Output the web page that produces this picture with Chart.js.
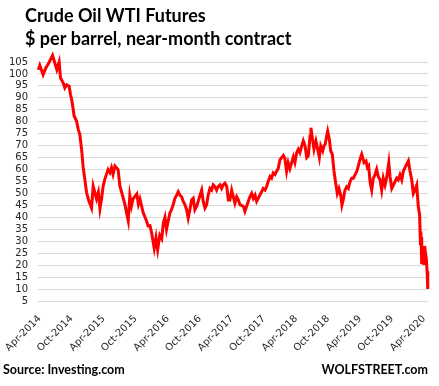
<!DOCTYPE html>
<html>
<head>
<meta charset="utf-8">
<title>Crude Oil WTI Futures</title>
<script src="https://cdn.jsdelivr.net/npm/chart.js@4.4.1/dist/chart.umd.min.js"></script>
<style>
  html, body { margin: 0; padding: 0; background: #fff; }
  canvas { display: block; }
</style>
</head>
<body>
<canvas id="oilChart" width="439" height="386"></canvas>
<script>
// near-month WTI close
const dates = [
  '2014-03-24', '2014-04-02', '2014-04-21', '2014-05-06', '2014-05-23', '2014-06-14', '2014-06-27', '2014-07-08',
  '2014-07-21', '2014-07-29', '2014-08-14', '2014-08-23', '2014-09-03', '2014-09-17', '2014-09-25', '2014-10-01',
  '2014-10-10', '2014-10-15', '2014-10-29', '2014-11-08', '2014-11-17', '2014-11-27', '2014-12-06', '2014-12-15',
  '2014-12-25', '2015-01-04', '2015-01-23', '2015-02-02', '2015-02-21', '2015-03-01', '2015-03-10', '2015-03-19',
  '2015-03-28', '2015-04-07', '2015-04-26', '2015-05-06', '2015-05-15', '2015-05-24', '2015-06-04', '2015-06-22',
  '2015-07-02', '2015-07-12', '2015-07-30', '2015-08-19', '2015-08-28', '2015-09-07', '2015-09-16', '2015-10-07',
  '2015-10-16', '2015-10-25', '2015-11-13', '2015-12-01', '2015-12-10', '2015-12-21', '2015-12-30', '2016-01-15',
  '2016-01-25', '2016-02-04', '2016-02-16', '2016-02-27', '2016-03-06', '2016-03-15', '2016-03-24', '2016-04-03',
  '2016-04-13', '2016-04-22', '2016-05-02', '2016-05-11', '2016-05-21', '2016-05-30', '2016-06-09', '2016-06-19',
  '2016-06-28', '2016-07-07', '2016-07-17', '2016-07-26', '2016-08-05', '2016-08-15', '2016-08-24', '2016-09-03',
  '2016-09-13', '2016-09-22', '2016-10-02', '2016-10-11', '2016-10-20', '2016-10-30', '2016-11-09', '2016-11-18',
  '2016-11-28', '2016-12-07', '2016-12-16', '2016-12-26', '2017-01-05', '2017-01-14', '2017-01-24', '2017-02-03',
  '2017-02-12', '2017-02-22', '2017-03-02', '2017-03-11', '2017-03-20', '2017-03-30', '2017-04-09', '2017-04-18',
  '2017-04-28', '2017-05-07', '2017-05-16', '2017-06-05', '2017-06-14', '2017-06-24', '2017-07-03', '2017-07-12',
  '2017-07-22', '2017-08-01', '2017-08-11', '2017-08-20', '2017-08-29', '2017-09-08', '2017-09-18', '2017-09-27',
  '2017-10-07', '2017-10-16', '2017-10-25', '2017-11-05', '2017-11-14', '2017-11-23', '2017-12-03', '2017-12-12',
  '2017-12-21', '2018-01-01', '2018-01-20', '2018-01-29', '2018-02-08', '2018-02-17', '2018-02-27', '2018-03-07',
  '2018-03-16', '2018-03-25', '2018-04-05', '2018-04-14', '2018-04-23', '2018-05-03', '2018-05-12', '2018-05-22',
  '2018-06-01', '2018-06-10', '2018-06-20', '2018-06-25', '2018-07-05', '2018-07-12', '2018-07-23', '2018-07-31',
  '2018-08-12', '2018-08-20', '2018-09-01', '2018-09-08', '2018-09-15', '2018-09-23', '2018-09-29', '2018-10-08',
  '2018-10-16', '2018-10-25', '2018-11-04', '2018-11-14', '2018-11-23', '2018-12-02', '2018-12-12', '2018-12-19',
  '2018-12-26', '2019-01-06', '2019-01-16', '2019-01-25', '2019-02-04', '2019-02-14', '2019-02-23', '2019-03-02',
  '2019-03-12', '2019-03-21', '2019-03-31', '2019-04-10', '2019-04-16', '2019-04-23', '2019-05-04', '2019-05-12',
  '2019-05-19', '2019-05-27', '2019-06-06', '2019-06-15', '2019-06-25', '2019-07-04', '2019-07-13', '2019-07-23',
  '2019-08-02', '2019-08-11', '2019-08-21', '2019-08-30', '2019-09-12', '2019-09-19', '2019-09-29', '2019-10-08',
  '2019-10-17', '2019-10-27', '2019-11-05', '2019-11-15', '2019-11-25', '2019-12-04', '2019-12-13', '2019-12-23',
  '2020-01-02', '2020-01-11', '2020-01-21', '2020-01-30', '2020-02-09', '2020-02-19', '2020-02-28', '2020-03-05',
  '2020-03-09', '2020-03-13', '2020-03-16', '2020-03-18', '2020-03-20', '2020-03-24', '2020-03-30', '2020-04-03',
  '2020-04-08', '2020-04-13', '2020-04-17', '2020-04-21'
];

const prices = [
  101.8, 103.6, 99.7, 102.5, 104.6, 107.8, 104.6, 101.8,
  105.0, 98.3, 96.2, 94.2, 95.5, 94.9, 91.4, 89.3,
  85.1, 82.4, 80.3, 76.8, 74.7, 68.5, 60.8, 56.0,
  50.5, 47.7, 44.0, 53.0, 47.7, 50.5, 43.6, 47.7,
  53.0, 55.9, 60.0, 58.7, 60.8, 58.0, 61.5, 60.0,
  53.0, 50.5, 45.5, 38.6, 49.0, 44.8, 47.7, 49.8,
  45.5, 47.7, 41.9, 38.6, 36.4, 36.5, 33.7, 27.0,
  31.5, 26.5, 32.5, 31.0, 37.6, 40.0, 35.0, 38.5,
  41.8, 43.2, 45.5, 48.0, 49.3, 50.7, 49.3, 48.6,
  46.7, 45.3, 43.2, 39.7, 43.2, 47.3, 48.0, 43.2,
  44.6, 46.7, 49.3, 51.4, 46.7, 43.9, 45.3, 49.3,
  52.1, 51.4, 53.6, 52.9, 51.4, 52.9, 53.6, 52.1,
  53.6, 54.3, 52.9, 47.3, 47.3, 51.4, 48.6, 45.9,
  48.6, 47.3, 45.3, 44.6, 42.5, 44.6, 46.7, 48.6,
  50.0, 47.9, 49.3, 46.7, 48.0, 49.3, 50.7, 52.1,
  51.4, 52.9, 55.0, 57.1, 56.4, 58.6, 57.9, 59.3,
  60.4, 64.1, 65.9, 64.6, 59.3, 62.9, 60.4, 63.0,
  65.3, 62.9, 67.1, 68.5, 67.1, 69.9, 72.0, 69.9,
  65.0, 65.7, 74.0, 77.5, 72.0, 68.5, 72.0, 69.2,
  65.0, 69.9, 67.8, 69.9, 70.6, 74.0, 76.1, 72.7,
  67.8, 66.4, 59.4, 54.2, 50.0, 52.1, 49.3, 45.1,
  47.2, 51.4, 52.8, 52.1, 54.9, 56.4, 56.4, 57.8,
  59.2, 61.5, 64.3, 66.4, 65.0, 62.9, 63.6, 60.8,
  61.5, 54.9, 51.4, 56.4, 57.8, 60.1, 57.1, 55.7,
  51.4, 56.4, 53.5, 56.4, 62.9, 57.1, 52.1, 53.5,
  54.9, 56.4, 55.7, 57.8, 55.7, 59.4, 60.8, 62.2,
  63.6, 59.4, 55.7, 50.0, 51.4, 53.5, 44.4, 41.0,
  31.0, 31.7, 28.7, 20.4, 22.4, 24.0, 20.1, 28.0,
  25.1, 22.4, 17.4, 10.0
];

const tickLabels = [
  'Apr-2014', 'Oct-2014', 'Apr-2015', 'Oct-2015', 'Apr-2016', 'Oct-2016', 'Apr-2017',
  'Oct-2017', 'Apr-2018', 'Oct-2018', 'Apr-2019', 'Oct-2019', 'Apr-2020'
];

const titleText = 'Crude Oil WTI Futures';
const subtitleText = '$ per barrel, near-month contract';
const sourceText = 'Source: Investing.com';
const brandText = 'WOLFSTREET.com';

// x axis runs in months counted from Apr 2014
function toMonths(year, month, day) {
    return (year - 2014) * 12 + (month - 4) + (day - 1) / 30.5;
}

function dateToMonths(s) {
    const [y, m, d] = s.split('-').map(Number);
    return toMonths(y, m, d);
}

function labelToMonths(label) {
    const names = { Apr: 4, Oct: 10 };
    const [mon, yr] = label.split('-');
    return toMonths(Number(yr), names[mon], 1);
}

const tickValues = tickLabels.map(labelToMonths);

const headerFooter = {
    id: 'headerFooter',
    afterDraw(chart) {
        const ctx = chart.ctx;
        ctx.save();
        ctx.fillStyle = '#000';
        ctx.textBaseline = 'alphabetic';
        ctx.textAlign = 'left';
        ctx.font = 'bold 18px Lato';
        ctx.fillText(titleText, 25, 22);
        ctx.fillText(subtitleText, 25, 45);
        ctx.font = 'bold 12.5px Lato';
        ctx.fillText(sourceText, 3, 374);
        ctx.textAlign = 'right';
        ctx.fillText(brandText, 428, 374);
        ctx.restore();
    }
};

document.addEventListener('DOMContentLoaded', function() {
    const ctx = document.getElementById('oilChart');
    new Chart(ctx, {
        type: 'line',
        data: {
            datasets: [{
                label: 'WTI',
                data: dates.map((d, i) => ({ x: dateToMonths(d), y: prices[i] })),
                borderColor: '#ff0000',
                borderWidth: 3,
                pointRadius: 0,
                tension: 0,
                clip: false
            }]
        },
        options: {
            responsive: false,
            animation: false,
            devicePixelRatio: 1,
            layout: { padding: { top: 62, right: 11, bottom: 0, left: 0 } },
            plugins: {
                legend: { display: false },
                tooltip: { enabled: false }
            },
            scales: {
                x: {
                    type: 'linear',
                    min: -0.3,
                    max: 72.7,
                    afterBuildTicks: axis => { axis.ticks = tickValues.map(v => ({ value: v })); },
                    afterFit: axis => { axis.height = 85; },
                    grid: { display: false },
                    border: { display: false },
                    ticks: {
                        autoSkip: false,
                        minRotation: 45,
                        maxRotation: 45,
                        padding: 4,
                        color: '#262626',
                        font: { family: 'DejaVu Sans', size: 10 },
                        callback: (v, i) => tickLabels[i]
                    }
                },
                y: {
                    min: 5,
                    max: 105,
                    afterFit: axis => { axis.width = 38; },
                    grid: { color: '#d9d9d9', drawTicks: false },
                    border: { display: false },
                    ticks: {
                        stepSize: 5,
                        autoSkip: false,
                        padding: 10,
                        color: '#262626',
                        font: { family: 'DejaVu Sans', size: 10 }
                    }
                }
            }
        },
        plugins: [headerFooter]
    });
});
</script>
</body>
</html>
